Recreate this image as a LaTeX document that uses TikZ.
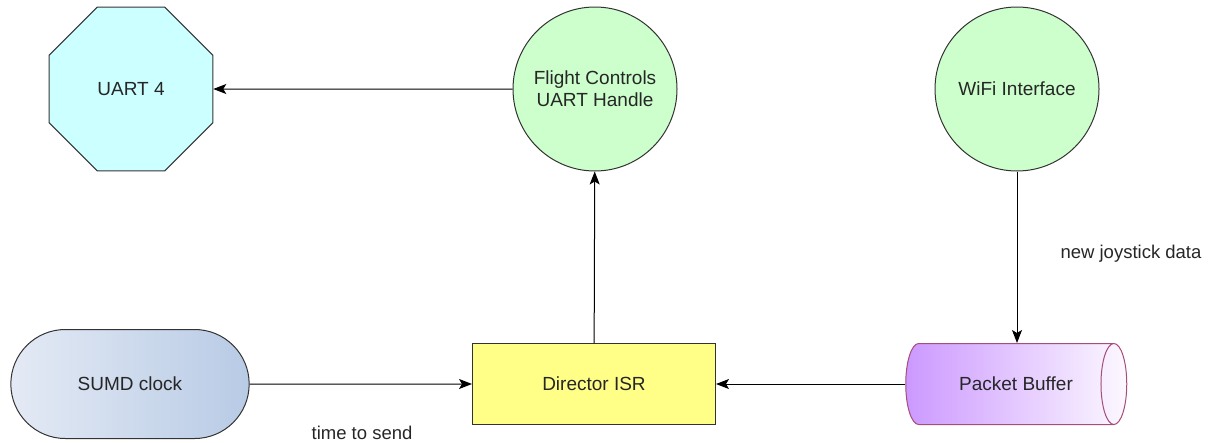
\documentclass[tikz,border=0pt]{standalone}
\usepackage{fontspec}
\setmainfont{Liberation Sans}
\usetikzlibrary{shapes.geometric,shapes.misc,arrows.meta}
\definecolor{octfill}{HTML}{CCFFFF}
\definecolor{taskfill}{HTML}{CCFFCC}
\definecolor{isrfill}{HTML}{FFFF88}
\definecolor{clockleft}{HTML}{E4EAF5}
\definecolor{clockright}{HTML}{B8CBE5}
\definecolor{bufleft}{HTML}{CC99FF}
\definecolor{bufright}{HTML}{FCF8FF}
\definecolor{bufdraw}{HTML}{A64D79}
\tikzset{
  base/.style={draw=black!80,line width=1pt,font=\fontsize{19}{22}\selectfont,text=black!85,align=center},
  task/.style={base,circle,fill=taskfill,minimum size=164pt,inner sep=0pt},
  periph/.style={base,regular polygon,regular polygon sides=8,fill=octfill,minimum size=177pt,inner sep=0pt},
  isr/.style={base,rectangle,fill=isrfill,minimum width=243pt,minimum height=81pt},
  clock/.style={base,rounded rectangle,left color=clockleft,right color=clockright,minimum width=245pt,minimum height=109pt},
  buffer/.style={base,draw=bufdraw,cylinder,left color=bufleft,right color=bufright,minimum width=81pt,minimum height=221pt,aspect=1.25},
  lbl/.style={font=\fontsize{18.5}{22}\selectfont,text=black!85}
}
\begin{document}
\begin{tikzpicture}[x=1pt,y=-1pt]
      \useasboundingbox (0,0) rectangle (1212,442);
      \node[periph] (uart) at (131,89) {UART 4};
      \node[task] (fc) at (595,89) {Flight Controls\\UART Handle};
      \node[task] (wifi) at (1017,89) {WiFi Interface};
      \node[clock] (sumd) at (130,384) {SUMD clock};
      \node[isr] (isr) at (594,384) {Director ISR};
      \node[buffer] (buf) at (1007,384) {\hspace*{18pt}Packet Buffer};
      \node[lbl] (joy) at (1131,254) {new joystick data};
      \node[lbl] (send) at (362,433) {time to send};
      \begin{scope}[-{Stealth[length=13pt,width=10pt,inset=3pt]},line width=1pt]
        \draw (fc) to (uart);
        \draw (isr) to (fc);
        \draw (wifi) to (wifi |- buf.north);
        \draw (buf) to (isr);
        \draw (sumd) to (isr);
      \end{scope}
\end{tikzpicture}
\end{document}
